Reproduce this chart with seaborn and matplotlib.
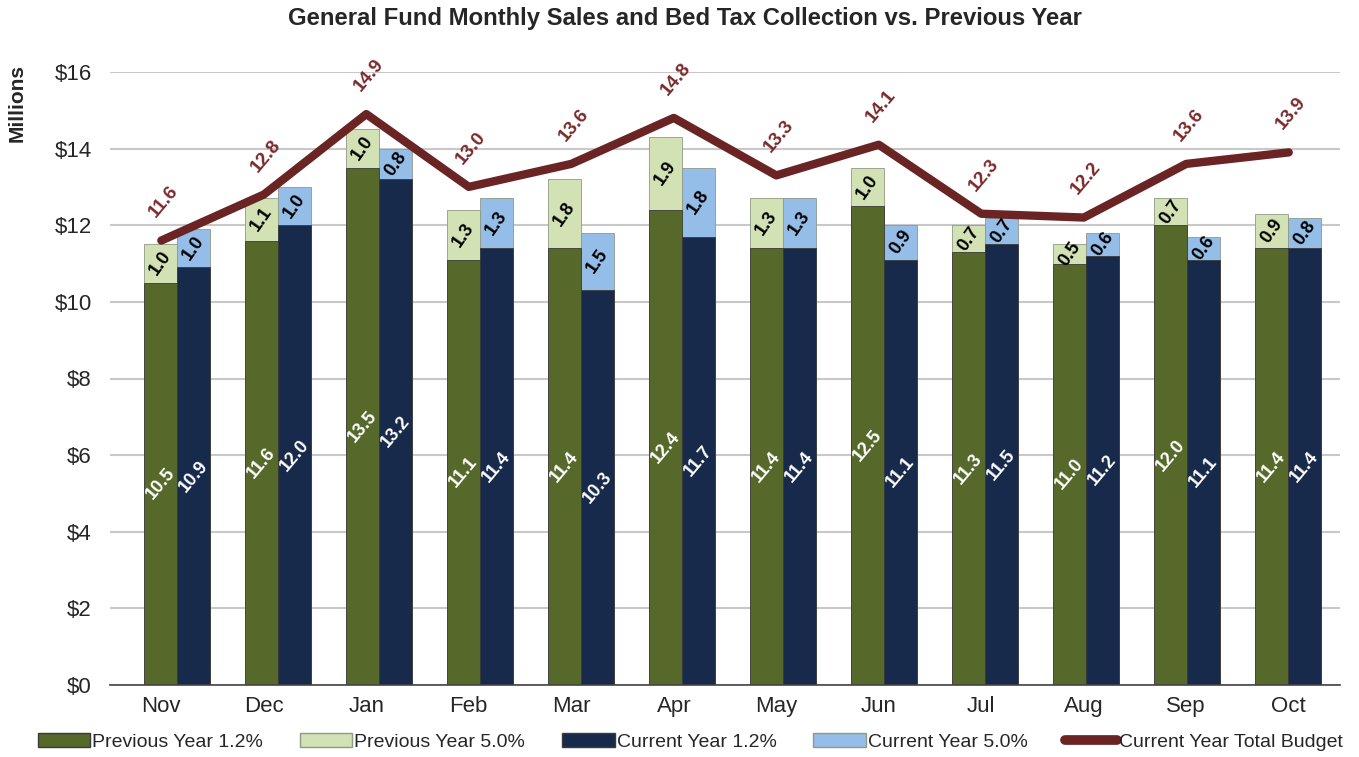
import numpy as np
import pandas as pd
import matplotlib
matplotlib.use("Agg")
import matplotlib.pyplot as plt
import seaborn as sns
from matplotlib.patches import Patch
from matplotlib.lines import Line2D

months = ["Nov", "Dec", "Jan", "Feb", "Mar", "Apr", "May", "Jun", "Jul", "Aug", "Sep", "Oct"]
prev_base = [10.5, 11.6, 13.5, 11.1, 11.4, 12.4, 11.4, 12.5, 11.3, 11.0, 12.0, 11.4]
prev_top = [1.0, 1.1, 1.0, 1.3, 1.8, 1.9, 1.3, 1.0, 0.7, 0.5, 0.7, 0.9]
cur_base = [10.9, 12.0, 13.2, 11.4, 10.3, 11.7, 11.4, 11.1, 11.5, 11.2, 11.1, 11.4]
cur_top = [1.0, 1.0, 0.8, 1.3, 1.5, 1.8, 1.3, 0.9, 0.7, 0.6, 0.6, 0.8]
budget = [11.6, 12.8, 14.9, 13.0, 13.6, 14.8, 13.3, 14.1, 12.3, 12.2, 13.6, 13.9]
y_ticks = [0, 2, 4, 6, 8, 10, 12, 14, 16]

sns.set_theme(style="white")
plt.rcParams['font.family'] = ['Liberation Sans', 'DejaVu Sans']

c_green = "#56692B"
c_lgreen = "#D3E2B4"
c_navy = "#172A4C"
c_lblue = "#94BDE8"
c_line = "#6A2424"

# bar groups sit on a slightly different spacing than the category ticks (as in the source chart)
grp_start, grp_step = 0.154, 0.9855
idx = np.arange(len(months))
grp_pos = grp_start + grp_step * idx

df = pd.DataFrame({
    "pos": np.concatenate([grp_pos, grp_pos]),
    "series": ["Previous"] * 12 + ["Current"] * 12,
    "base": prev_base + cur_base,
    "top": prev_top + cur_top,
})
df["total"] = df["base"] + df["top"]

fig, ax = plt.subplots(figsize=(13.59, 7.57), dpi=100)
fig.subplots_adjust(left=0.081, right=0.986, bottom=0.095, top=0.905)

bw = 0.64 / grp_step
sns.barplot(data=df, x="pos", y="total", hue="series", hue_order=["Previous", "Current"],
            palette=[c_lgreen, c_lblue], width=bw, dodge=True, native_scale=True, ax=ax,
            legend=False, edgecolor="#8f9a86", linewidth=0.6, saturation=1)
sns.barplot(data=df, x="pos", y="base", hue="series", hue_order=["Previous", "Current"],
            palette=[c_green, c_navy], width=bw, dodge=True, native_scale=True, ax=ax,
            legend=False, edgecolor="#3a3a3a", linewidth=0.6, saturation=1)

sns.lineplot(x=idx, y=budget, color=c_line, lw=6, ax=ax, legend=False,
             solid_capstyle="round", zorder=5)

off = 0.16
for i in range(len(months)):
    g = grp_pos[i]
    for dx, b, t in [(-off, prev_base[i], prev_top[i]), (off, cur_base[i], cur_top[i])]:
        ax.text(g + dx, b / 2, f"{b:.1f}", rotation=50, ha="center", va="center",
                color="white", fontsize=13, fontweight="bold", zorder=6)
        ax.text(g + dx, b + t / 2, f"{t:.1f}", rotation=55, ha="center", va="center",
                color="black", fontsize=13, fontweight="bold", zorder=6)
    ax.annotate(f"{budget[i]:.1f}", (idx[i], budget[i]), xytext=(2, 28),
                textcoords="offset points", rotation=50, ha="center", va="center",
                color="#7A2A2A", fontsize=13.5, fontweight="bold", zorder=6)

ax.set_xlim(-0.5, 11.5)
ax.set_ylim(0, 16)
ax.set_xticks(idx)
ax.set_xticklabels(months, fontsize=16)
ax.set_yticks(y_ticks)
ax.set_yticklabels([f"${v}" for v in y_ticks], fontsize=16)
ax.tick_params(axis="x", length=0, pad=8)
ax.tick_params(axis="y", length=0, pad=13)
ax.set_xlabel("")
ax.set_ylabel("")
ax.yaxis.grid(True, color="#c8c8c8", lw=1.5)
ax.set_axisbelow(True)
for s in ["top", "right", "left"]:
    ax.spines[s].set_visible(False)
ax.spines["bottom"].set_color("#444444")
ax.spines["bottom"].set_linewidth(1.2)

fig.text(0.0125, 1 - 64 / 757, "Millions", rotation=90, ha="center", va="top",
         fontsize=15, fontweight="bold")
fig.text(0.504, 1 - 18 / 757, "General Fund Monthly Sales and Bed Tax Collection vs. Previous Year",
         ha="center", va="center", fontsize=17.2, fontweight="bold")

handles = [
    Patch(facecolor=c_green, edgecolor="#3a3a3a", label="Previous Year 1.2%"),
    Patch(facecolor=c_lgreen, edgecolor="#8f9a86", label="Previous Year 5.0%"),
    Patch(facecolor=c_navy, edgecolor="#3a3a3a", label="Current Year 1.2%"),
    Patch(facecolor=c_lblue, edgecolor="#8f9a86", label="Current Year 5.0%"),
    Line2D([0], [0], color=c_line, lw=7, solid_capstyle="round", label="Current Year Total Budget"),
]
fig.legend(handles=handles, loc="center", ncol=5, frameon=False,
           bbox_to_anchor=(0.508, 0.02), handlelength=2.7,
           handleheight=0.7, handletextpad=0.1, columnspacing=1.9,
           prop={"family": ["Liberation Sans", "DejaVu Sans"], "size": 14})

fig.savefig("out.png", dpi=100)
